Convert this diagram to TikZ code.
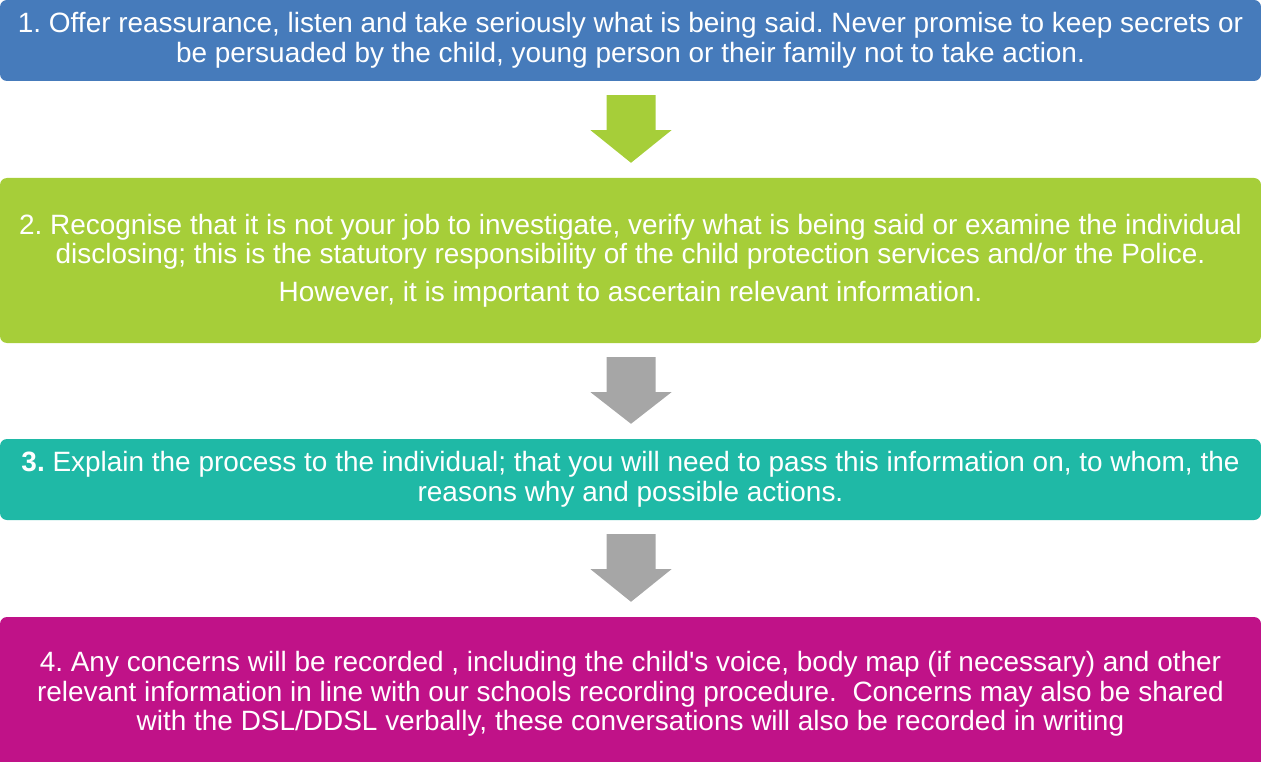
\documentclass[tikz,border=0pt]{standalone}
\usepackage{fontspec}
\setmainfont{Liberation Sans}
\usetikzlibrary{calc}
\definecolor{cblue}{RGB}{70,123,187}
\definecolor{cgreen}{RGB}{166,206,57}
\definecolor{cteal}{RGB}{31,185,166}
\definecolor{cmag}{RGB}{192,18,136}
\definecolor{cgray}{RGB}{166,166,166}
\frenchspacing
\begin{document}
\begin{tikzpicture}[x=1pt,y=-1pt,
  stepbox/.style={rectangle, rounded corners=7pt, inner sep=0pt, minimum width=1261pt,
    text=white, align=center, font=\fontsize{27.95}{29.5}\selectfont}]
\useasboundingbox (0,0) rectangle (1261,762);
\clip (0,0) rectangle (1261,762);
\node[stepbox, fill=cblue, minimum height=81pt] (b1) at (630.5,40.5)
  {1. Offer reassurance, listen and take seriously what is being said. Never promise to keep secrets or\\
   be persuaded by the child, young person or their family not to take action.};
\node[stepbox, fill=cgreen, minimum height=165pt] (b2) at (630.5,260.5)
  {2. Recognise that it is not your job to investigate, verify what is being said or examine the individual\\
   disclosing; this is the statutory responsibility of the child protection services and/or the Police.\\[8pt]
   However, it is important to ascertain relevant information.};
\node[stepbox, fill=cteal, minimum height=81pt] (b3) at (630.5,479.5)
  {\textbf{3.} Explain the process to the individual; that you will need to pass this information on, to whom, the\\
   reasons why and possible actions.};
\node[stepbox, fill=cmag, minimum height=154pt] (b4) at (630.5,694)
  {4. Any concerns will be recorded , including the child\textquotesingle s voice, body map (if necessary) and other\\
   relevant information in line with our schools recording procedure.\ \ Concerns may also be shared\\
   with the DSL/DDSL verbally, these conversations will also be recorded in writing};
% arrows
\foreach \a/\b/\c in {b1/b2/cgreen, b2/b3/cgray, b3/b4/cgray}{
  \fill[\c] ($(\a.south)+(-24,14)$) -- ($(\a.south)+(25,14)$) -- ($(\a.south)+(25,49)$)
    -- ($(\a.south)+(41,49)$) -- ($(\b.north)+(0.5,-15)$) -- ($(\a.south)+(-40,49)$)
    -- ($(\a.south)+(-24,49)$) -- cycle;
}
\end{tikzpicture}
\end{document}
